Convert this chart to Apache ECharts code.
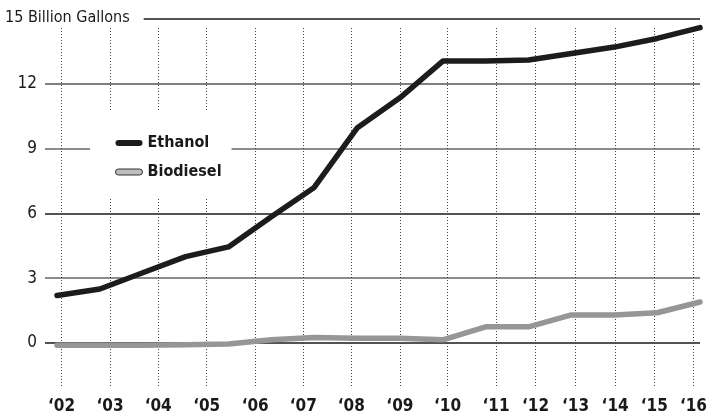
<!DOCTYPE html>
<html>
<head>
<meta charset="utf-8">
<script src="https://cdn.jsdelivr.net/npm/echarts@6/dist/echarts.min.js"></script>
<style>
  html, body { margin: 0; padding: 0; background: #fff; }
  #chart { width: 710px; height: 417px; }
</style>
</head>
<body>
<div id="chart"></div>
<script>
// year labels and where their dotted guides sit along the point index axis
const years = ['‘02', '‘03', '‘04', '‘05', '‘06', '‘07', '‘08', '‘09', '‘10', '‘11', '‘12', '‘13', '‘14', '‘15', '‘16'];
const yearTickPos = [0.11, 1.25, 2.38, 3.52, 4.66, 5.79, 6.92, 8.06, 9.18, 10.32, 11.25, 12.19, 13.12, 14.04, 14.96];

// billion gallons
const ethanol = [2.2, 2.5, 3.25, 4.0, 4.45, 5.85, 7.2, 9.95, 11.35, 13.05, 13.05, 13.1, 13.4, 13.7, 14.1, 14.6];
const biodiesel = [-0.1, -0.1, -0.1, -0.08, -0.05, 0.15, 0.26, 0.22, 0.22, 0.15, 0.75, 0.75, 1.3, 1.3, 1.4, 1.9];

const yTicks = [0, 3, 6, 9, 12, 15];

const FONT = '"Liberation Sans Narrow", "DejaVu Sans Condensed", "Roboto", sans-serif';

const chart = echarts.init(document.getElementById('chart'));

function toPoints(arr) {
  return arr.map(function (v, i) { return [i, v]; });
}

function yearLabel(value) {
  let best = 0;
  for (let i = 1; i < yearTickPos.length; i++) {
    if (Math.abs(yearTickPos[i] - value) < Math.abs(yearTickPos[best] - value)) best = i;
  }
  return years[best];
}

const pill = 'path://M3,0 H24 A3,3 0 0 1 24,6 H3 A3,3 0 0 1 3,0 Z';

const option = {
  backgroundColor: '#fff',
  animation: false,
  grid: [
    { left: 45, right: 10, top: 19, bottom: 74 },
    { left: 45, right: 10, top: 28, bottom: 30 }
  ],
  xAxis: [{
    gridIndex: 0,
    type: 'value',
    min: -0.28,
    max: 15,
    axisLine: { show: false },
    axisTick: { show: false },
    axisLabel: { show: false },
    splitLine: { show: false }
  }, {
    gridIndex: 1,
    type: 'value',
    min: -0.28,
    max: 15,
    axisLine: { show: false },
    axisTick: { show: false, customValues: yearTickPos },
    axisLabel: {
      customValues: yearTickPos,
      margin: 11,
      formatter: yearLabel,
      color: '#1a1a1a',
      fontFamily: FONT,
      fontWeight: 'bold',
      fontSize: 17
    },
    splitLine: {
      show: true,
      lineStyle: { color: '#444', width: 1, type: [1, 2] }
    }
  }],
  yAxis: [{
    gridIndex: 0,
    type: 'value',
    min: yTicks[0],
    max: yTicks[yTicks.length - 1],
    interval: 3,
    axisLine: { show: false },
    axisTick: { show: false },
    axisLabel: {
      margin: 8,
      formatter: function (v) { return v === 15 ? '' : String(v); },
      color: '#1a1a1a',
      fontFamily: FONT,
      fontSize: 17
    },
    splitLine: {
      lineStyle: {
        color: ['#1a1a1a', '#666', '#1a1a1a', '#666', '#555', '#1a1a1a'],
        width: 1.5
      }
    }
  }, {
    gridIndex: 1,
    type: 'value',
    show: false,
    min: 0,
    max: 1,
    splitLine: { show: false }
  }],
  legend: {
    orient: 'vertical',
    left: 90,
    top: 110,
    backgroundColor: '#fff',
    padding: [25, 10, 19, 25],
    itemWidth: 27,
    itemHeight: 7,
    itemGap: 13,
    selectedMode: false,
    textStyle: {
      fontFamily: FONT,
      fontWeight: 'bold',
      fontSize: 16,
      color: '#1a1a1a'
    },
    data: [
      { name: 'Ethanol', icon: pill, itemStyle: { color: '#1c1c1c' } },
      { name: 'Biodiesel', icon: pill, itemStyle: { color: '#bdbdbd', borderColor: '#333', borderWidth: 1 } }
    ],
    z: 10
  },
  graphic: [{
    type: 'text',
    left: 3,
    top: 8,
    z: 100,
    style: {
      text: '15 Billion Gallons',
      fontFamily: FONT,
      fontSize: 16,
      fill: '#1a1a1a',
      backgroundColor: '#fff',
      padding: [2, 14, 2, 2]
    }
  }],
  series: [{
    name: 'Biodiesel',
    type: 'line',
    xAxisIndex: 0,
    yAxisIndex: 0,
    data: toPoints(biodiesel),
    showSymbol: false,
    symbol: 'none',
    clip: false,
    lineStyle: { color: '#969696', width: 5.5, cap: 'round', join: 'round' },
    itemStyle: { color: '#969696' }
  }, {
    name: 'Ethanol',
    type: 'line',
    xAxisIndex: 0,
    yAxisIndex: 0,
    data: toPoints(ethanol),
    showSymbol: false,
    symbol: 'none',
    clip: false,
    lineStyle: { color: '#1c1c1c', width: 5.5, cap: 'round', join: 'round' },
    itemStyle: { color: '#1c1c1c' }
  }]
};

chart.setOption(option);
</script>
</body>
</html>
